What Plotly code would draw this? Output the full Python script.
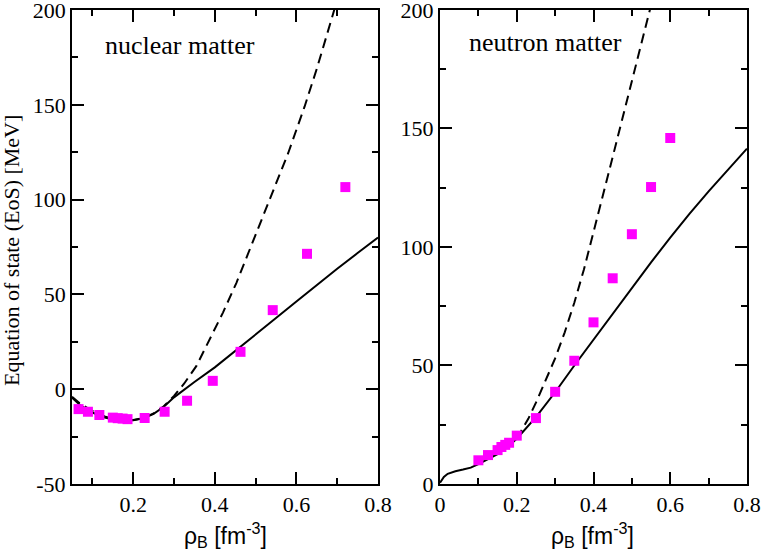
import plotly.graph_objects as go
from plotly.subplots import make_subplots

# nuclear matter (left panel)
nuc_rho_line = [0.05, 0.07, 0.10, 0.13, 0.16, 0.18, 0.20, 0.225, 0.25, 0.275, 0.30, 0.325,
                0.35, 0.40, 0.45, 0.50, 0.55, 0.60, 0.65, 0.70, 0.75, 0.80]
nuc_solid = [-4.4, -8.5, -12.3, -15.0, -16.4, -16.7, -16.4, -15.4, -13.0, -9.3, -4.3, 0.0,
             3.8, 11.5, 20.0, 28.7, 37.5, 46.3, 55.0, 63.5, 71.8, 80.0]
nuc_rho_dash = [0.05, 0.07, 0.10, 0.13, 0.16, 0.18, 0.20, 0.225, 0.25, 0.275, 0.30, 0.325,
                0.355, 0.388, 0.42, 0.453, 0.486, 0.519, 0.551, 0.58, 0.62, 0.65, 0.69, 0.70]
nuc_dash = [-4.0, -7.6, -11.5, -14.4, -16.0, -16.4, -16.2, -15.2, -12.8, -9.0, -3.5, 3.0,
            12.3, 26.3, 40.4, 56.1, 73.7, 91.2, 108.8, 124.6, 149.0, 169.0, 198.0, 205.5]
nuc_rho_pts = [0.066, 0.089, 0.117, 0.15, 0.162, 0.174, 0.186, 0.228, 0.277, 0.332,
               0.395, 0.463, 0.542, 0.626, 0.72]
nuc_pts = [-10.5, -11.9, -13.6, -15.0, -15.3, -15.5, -15.8, -15.2, -11.9, -6.1,
           4.4, 19.7, 41.7, 71.4, 106.6]

# neutron matter (right panel)
neu_rho_line = [0.0, 0.01, 0.02, 0.04, 0.06, 0.08, 0.10, 0.125, 0.15, 0.175, 0.20, 0.25,
                0.30, 0.35, 0.40, 0.45, 0.50, 0.55, 0.60, 0.65, 0.70, 0.75, 0.80]
neu_solid = [0.5, 3.0, 4.3, 5.4, 6.1, 6.9, 8.4, 10.6, 12.6, 15.6, 19.1, 28.2,
             38.7, 50.0, 61.0, 71.6, 82.6, 93.5, 104.0, 114.0, 123.5, 132.6, 141.5]
neu_rho_dash = [0.20, 0.23, 0.25, 0.275, 0.30, 0.325, 0.35, 0.375, 0.40, 0.425, 0.45,
                0.475, 0.50, 0.525, 0.55]
neu_dash = [19.1, 27.5, 34.3, 43.3, 53.0, 64.0, 76.5, 90.5, 106.0, 122.0, 138.0,
            154.0, 170.0, 186.0, 202.0]
neu_rho_pts = [0.10, 0.125, 0.15, 0.16, 0.17, 0.18, 0.20, 0.25, 0.30, 0.35, 0.40, 0.45,
               0.50, 0.55, 0.60]
neu_pts = [10.0, 12.2, 14.3, 15.6, 16.5, 17.4, 20.4, 27.8, 38.9, 52.0, 68.2, 86.8,
           105.4, 125.3, 146.0]

x_ticks = [0.2, 0.4, 0.6, 0.8]
x_ticks_r = [0, 0.2, 0.4, 0.6, 0.8]
x_labels_r = ["0", "0.2", "0.4", "0.6", "0.8"]
y_ticks_l = [-50, 0, 50, 100, 150, 200]
y_labels_l = ["-50", "0", "50", "100", "150", "200"]
y_ticks_r = [0, 50, 100, 150, 200]

fig = make_subplots(rows=1, cols=2)

def add_panel(col, rl, sl, rd, sd, rp, sp):
    fig.add_trace(go.Scatter(x=rl, y=sl, mode="lines", line=dict(color="black", width=2),
                             showlegend=False), row=1, col=col)
    fig.add_trace(go.Scatter(x=rd, y=sd, mode="lines",
                             line=dict(color="black", width=2, dash="10px,6px"),
                             showlegend=False), row=1, col=col)
    fig.add_trace(go.Scatter(x=rp, y=sp, mode="markers",
                             marker=dict(symbol="square", size=10, color="#ff00ff"),
                             showlegend=False), row=1, col=col)

add_panel(1, nuc_rho_line, nuc_solid, nuc_rho_dash, nuc_dash, nuc_rho_pts, nuc_pts)
add_panel(2, neu_rho_line, neu_solid, neu_rho_dash, neu_dash, neu_rho_pts, neu_pts)

common = dict(showline=True, linecolor="black", linewidth=2, mirror="allticks",
              ticks="inside", ticklen=12, tickwidth=2, tickcolor="black", automargin=False,
              showgrid=False, zeroline=False, ticklabeloverflow="allow",
              tickfont=dict(family="Liberation Serif", size=22, color="black"))
minor = dict(ticklen=6, tickwidth=2, tickcolor="black", ticks="inside")

fig.update_xaxes(domain=[0.0944, 0.4954], range=[0.05, 0.8], tickvals=x_ticks,
                 ticktext=[str(v) for v in x_ticks], minor=dict(minor, dtick=0.1, tick0=0), row=1, col=1, **common)
fig.update_xaxes(domain=[0.5767, 0.979], range=[0, 0.8], tickvals=x_ticks_r,
                 ticktext=x_labels_r, minor=dict(minor, dtick=0.1, tick0=0), row=1, col=2, **common)
fig.update_yaxes(domain=[0.1248, 0.9819], range=[-50, 200], tickvals=y_ticks_l,
                 ticktext=y_labels_l, minor=dict(minor, dtick=25, tick0=0), row=1, col=1, **common)
fig.update_yaxes(domain=[0.1248, 0.9819], range=[0, 200], tickvals=y_ticks_r,
                 ticktext=[str(v) for v in y_ticks_r], minor=dict(minor, dtick=25, tick0=0), row=1, col=2, **common)

serif = dict(family="Liberation Serif", color="black")
sans = dict(family="Liberation Sans", size=23, color="black")
xt = "ρ<sub>B</sub> [fm<sup>-3</sup>]"
fig.add_annotation(x=0.296, y=0.033, xref="paper", yref="paper", text=xt, showarrow=False,
                   xanchor="center", yanchor="middle", font=sans)
fig.add_annotation(x=0.777, y=0.033, xref="paper", yref="paper", text=xt, showarrow=False,
                   xanchor="center", yanchor="middle", font=sans)
fig.add_annotation(x=0.0157, y=0.548, xref="paper", yref="paper", text="Equation of state (EoS) [MeV]",
                   textangle=-90, showarrow=False, xanchor="center", yanchor="middle",
                   font=dict(serif, size=22))
fig.add_annotation(x=0.135, y=0.9186, xref="paper", yref="paper", text="nuclear matter",
                   xanchor="left", yanchor="middle", showarrow=False, font=dict(serif, size=26))
fig.add_annotation(x=0.612, y=0.924, xref="paper", yref="paper", text="neutron matter",
                   xanchor="left", yanchor="middle", showarrow=False, font=dict(serif, size=26))

fig.update_layout(width=763, height=553, margin=dict(l=0, r=0, t=0, b=0),
                  font=dict(family="Liberation Serif", size=20, color="black"),
                  paper_bgcolor="white", plot_bgcolor="white")
# drop the default page margin so the figure sits at the window's corner
fig.write_html("out.html", config={"displayModeBar": False},
               post_script="document.body.style.margin='0';")
